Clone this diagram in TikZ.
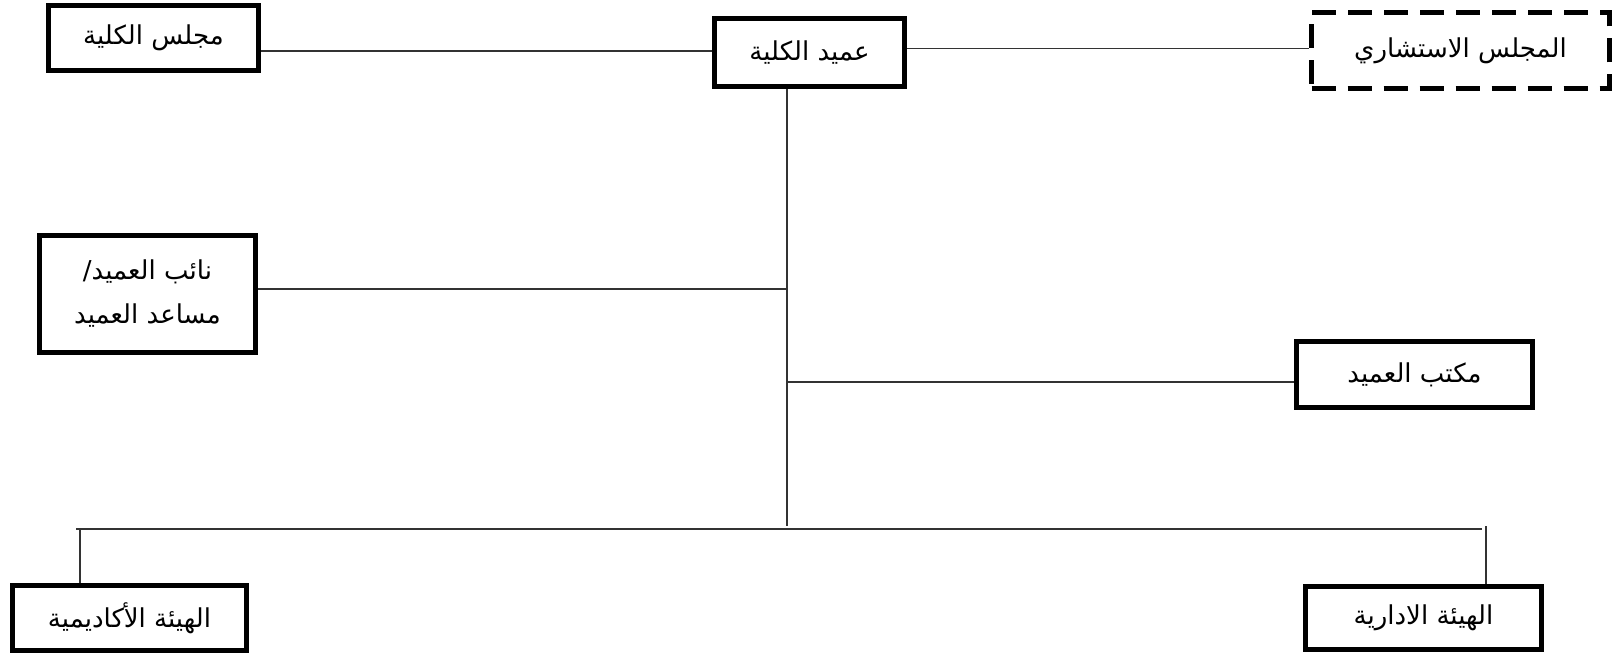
\documentclass[tikz,border=0pt]{standalone}
\usepackage{fontspec}
\newfontfamily\arabicfont[Script=Arabic]{DejaVu Sans}
\TeXXeTstate=1
\begin{document}
\begin{tikzpicture}[x=1pt, y=-1pt, line join=miter,
	box/.style={draw, line width=5.5pt, inner sep=0pt, align=center, font=\arabicfont\fontsize{26}{44}\selectfont},
	dashbox/.style={box, line width=5pt, dash pattern=on 24pt off 12pt},
	link/.style={line width=1.2pt, black!80}]
	\useasboundingbox (0,0) rectangle (1612,655);
	% boxes
	\node[box, minimum width=210, minimum height=65] (council) at (153.5,38) {\beginR مجلس الكلية\endR};
	\node[box, minimum width=190, minimum height=68] (dean) at (809.5,52.5) {\beginR عميد الكلية\endR};
	\node[dashbox, minimum width=298, minimum height=76] (adv) at (1460.5,50.5) {\beginR المجلس الاستشاري\endR};
	\node[box, minimum width=216, minimum height=117] (vice) at (147.5,294) {\beginR نائب العميد/\endR\\\beginR مساعد العميد\endR};
	\node[box, minimum width=236, minimum height=66] (office) at (1414.5,374.5) {\beginR مكتب العميد\endR};
	\node[box, minimum width=234, minimum height=65] (aca) at (129.5,618) {\beginR الهيئة الأكاديمية\endR};
	\node[box, minimum width=236, minimum height=63] (adm) at (1423.5,618) {\beginR الهيئة الادارية\endR};
	% connectors
	\coordinate (spine) at (787,526);
	\coordinate (busL) at (80,529);
	\coordinate (busR) at (1486,529);
	\draw[link] ([yshift=1.5]dean.west) -- ([yshift=1.5]dean.west -| council.east);
	\draw[link] ([yshift=2]adv.west) -- ([yshift=2]adv.west -| dean.east);
	\draw[link] (dean.south -| spine) -- (spine);
	\draw[link] ([yshift=5]vice.east) -- ([yshift=5]vice.east -| spine);
	\draw[link] ([yshift=-7.5]office.west) -- ([yshift=-7.5]office.west -| spine);
	\draw[link] ([xshift=-4]busL) -- ([xshift=-4]busR);
	\draw[link] (busL) -- (aca.north -| busL);
	\draw[link] ([yshift=3]busR) -- (adm.north -| busR);
\end{tikzpicture}
\end{document}
